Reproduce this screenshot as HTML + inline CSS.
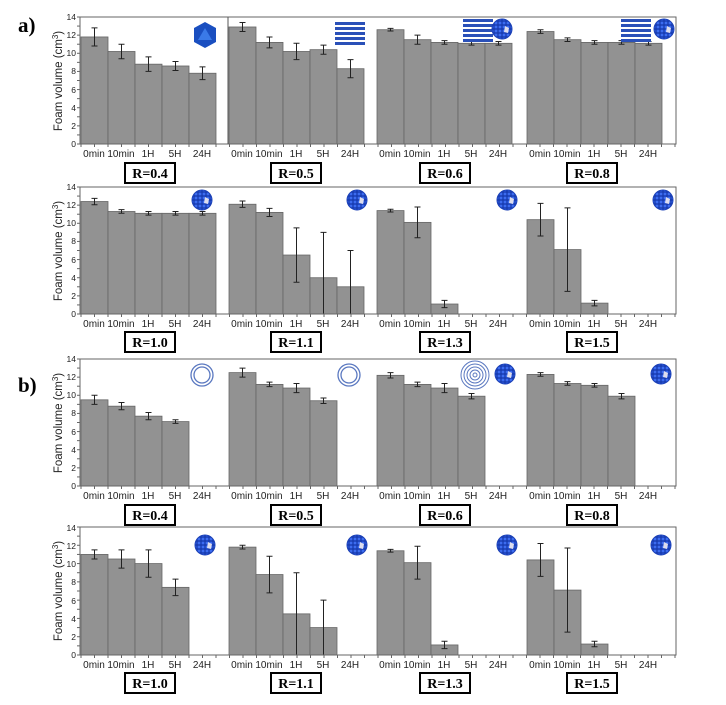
<!DOCTYPE html>
<html><head><meta charset="utf-8"><style>
html,body{margin:0;padding:0;background:#fff}
svg{display:block}
.t{font-family:"Liberation Sans",sans-serif;font-size:10px;fill:#222}
.y{font-family:"Liberation Sans",sans-serif;font-size:8.5px;fill:#222}
.r{font-family:"Liberation Serif",serif;font-size:14px;font-weight:bold;fill:#000}
.lab{font-family:"Liberation Serif",serif;font-size:21px;font-weight:bold;fill:#000}
.yl{font-family:"Liberation Sans",sans-serif;font-size:11.5px;fill:#222}
</style></head><body>
<svg id="s" width="726" height="705" viewBox="0 0 726 705" xmlns="http://www.w3.org/2000/svg">
<text class="lab" x="18" y="32">a)</text>
<text class="lab" x="18" y="392">b)</text>
<g id="bars"></g>
<text class="yl" transform="translate(62,81) rotate(-90)" text-anchor="middle">Foam volume (cm<tspan dy="-4" font-size="8">3</tspan><tspan dy="4">)</tspan></text>
<text class="yl" transform="translate(62,251) rotate(-90)" text-anchor="middle">Foam volume (cm<tspan dy="-4" font-size="8">3</tspan><tspan dy="4">)</tspan></text>
<text class="yl" transform="translate(62,423) rotate(-90)" text-anchor="middle">Foam volume (cm<tspan dy="-4" font-size="8">3</tspan><tspan dy="4">)</tspan></text>
<text class="yl" transform="translate(62,591) rotate(-90)" text-anchor="middle">Foam volume (cm<tspan dy="-4" font-size="8">3</tspan><tspan dy="4">)</tspan></text>
<g class="y" text-anchor="end">
<text x="76" y="147">0</text><text x="76" y="129">2</text><text x="76" y="111">4</text><text x="76" y="93">6</text><text x="76" y="74">8</text><text x="76" y="56">10</text><text x="76" y="38">12</text><text x="76" y="20">14</text>
<text x="76" y="317">0</text><text x="76" y="299">2</text><text x="76" y="281">4</text><text x="76" y="263">6</text><text x="76" y="244">8</text><text x="76" y="226">10</text><text x="76" y="208">12</text><text x="76" y="190">14</text>
<text x="76" y="489">0</text><text x="76" y="471">2</text><text x="76" y="453">4</text><text x="76" y="435">6</text><text x="76" y="416">8</text><text x="76" y="398">10</text><text x="76" y="380">12</text><text x="76" y="362">14</text>
<text x="76" y="658">0</text><text x="76" y="640">2</text><text x="76" y="622">4</text><text x="76" y="604">6</text><text x="76" y="585">8</text><text x="76" y="567">10</text><text x="76" y="549">12</text><text x="76" y="531">14</text>
</g>
<g class="t" text-anchor="middle">
<g transform="translate(0,157)">
<text x="94">0min</text><text x="121">10min</text><text x="148">1H</text><text x="175">5H</text><text x="202">24H</text>
<text x="242">0min</text><text x="269">10min</text><text x="296">1H</text><text x="323">5H</text><text x="350">24H</text>
<text x="390">0min</text><text x="417">10min</text><text x="444">1H</text><text x="471">5H</text><text x="498">24H</text>
<text x="540">0min</text><text x="567">10min</text><text x="594">1H</text><text x="621">5H</text><text x="648">24H</text>
</g>
<g transform="translate(0,327)">
<text x="94">0min</text><text x="121">10min</text><text x="148">1H</text><text x="175">5H</text><text x="202">24H</text>
<text x="242">0min</text><text x="269">10min</text><text x="296">1H</text><text x="323">5H</text><text x="350">24H</text>
<text x="390">0min</text><text x="417">10min</text><text x="444">1H</text><text x="471">5H</text><text x="498">24H</text>
<text x="540">0min</text><text x="567">10min</text><text x="594">1H</text><text x="621">5H</text><text x="648">24H</text>
</g>
<g transform="translate(0,499)">
<text x="94">0min</text><text x="121">10min</text><text x="148">1H</text><text x="175">5H</text><text x="202">24H</text>
<text x="242">0min</text><text x="269">10min</text><text x="296">1H</text><text x="323">5H</text><text x="350">24H</text>
<text x="390">0min</text><text x="417">10min</text><text x="444">1H</text><text x="471">5H</text><text x="498">24H</text>
<text x="540">0min</text><text x="567">10min</text><text x="594">1H</text><text x="621">5H</text><text x="648">24H</text>
</g>
<g transform="translate(0,668)">
<text x="94">0min</text><text x="121">10min</text><text x="148">1H</text><text x="175">5H</text><text x="202">24H</text>
<text x="242">0min</text><text x="269">10min</text><text x="296">1H</text><text x="323">5H</text><text x="350">24H</text>
<text x="390">0min</text><text x="417">10min</text><text x="444">1H</text><text x="471">5H</text><text x="498">24H</text>
<text x="540">0min</text><text x="567">10min</text><text x="594">1H</text><text x="621">5H</text><text x="648">24H</text>
</g>
</g>
<g fill="#fff" stroke="#000" stroke-width="2">
<rect x="125" y="163" width="50" height="20"/><rect x="271" y="163" width="50" height="20"/><rect x="420" y="163" width="50" height="20"/><rect x="567" y="163" width="50" height="20"/>
<rect x="125" y="332" width="50" height="20"/><rect x="271" y="332" width="50" height="20"/><rect x="420" y="332" width="50" height="20"/><rect x="567" y="332" width="50" height="20"/>
<rect x="125" y="505" width="50" height="20"/><rect x="271" y="505" width="50" height="20"/><rect x="420" y="505" width="50" height="20"/><rect x="567" y="505" width="50" height="20"/>
<rect x="125" y="673" width="50" height="20"/><rect x="271" y="673" width="50" height="20"/><rect x="420" y="673" width="50" height="20"/><rect x="567" y="673" width="50" height="20"/>
</g>
<g class="r" text-anchor="middle">
<text x="150" y="178">R=0.4</text><text x="296" y="178">R=0.5</text><text x="445" y="178">R=0.6</text><text x="592" y="178">R=0.8</text>
<text x="150" y="347">R=1.0</text><text x="296" y="347">R=1.1</text><text x="445" y="347">R=1.3</text><text x="592" y="347">R=1.5</text>
<text x="150" y="520">R=0.4</text><text x="296" y="520">R=0.5</text><text x="445" y="520">R=0.6</text><text x="592" y="520">R=0.8</text>
<text x="150" y="688">R=1.0</text><text x="296" y="688">R=1.1</text><text x="445" y="688">R=1.3</text><text x="592" y="688">R=1.5</text>
</g>
<defs>
<pattern id="dots" width="4" height="4" patternUnits="userSpaceOnUse"><rect width="4" height="4" fill="#1a3fb5"/><circle cx="2" cy="2" r="1.4" fill="#3c6cf0"/></pattern>
<g id="sph"><circle r="10" fill="url(#dots)" stroke="#1a3fb5"/><path d="M3,-3 l4,2 l-1,5 l-4,-1z" fill="#dde"/></g>
<g id="str"><rect x="0" y="0" width="30" height="3" fill="#2a50b8"/><rect x="0" y="5" width="30" height="3" fill="#2a50b8"/><rect x="0" y="10" width="30" height="3" fill="#2a50b8"/><rect x="0" y="15" width="30" height="3" fill="#2a50b8"/><rect x="0" y="20" width="30" height="3" fill="#2a50b8"/></g>
<g id="ring"><circle r="11" fill="none" stroke="#5a78c0" stroke-width="1.3"/><circle r="8" fill="none" stroke="#5a78c0" stroke-width="1.3"/></g>
</defs>
<polygon points="205,22 216,28 216,42 205,48 194,42 194,28" fill="#1a4fc0"/><polygon points="205,28 212,40 198,40" fill="#3a7ae8"/>
<use href="#str" x="335" y="22"/>
<use href="#str" x="463" y="19"/><use href="#sph" x="502" y="29"/>
<use href="#str" x="621" y="19"/><use href="#sph" x="664" y="29"/>
<use href="#sph" x="202" y="200"/><use href="#sph" x="357" y="200"/><use href="#sph" x="507" y="200"/><use href="#sph" x="663" y="200"/>
<use href="#ring" x="202" y="375"/><use href="#ring" x="349" y="375"/>
<g transform="translate(475,375)" fill="none" stroke="#5a78c0" stroke-width="1"><circle r="14"/><circle r="11"/><circle r="8"/><circle r="5"/><circle r="2"/></g>
<use href="#sph" x="505" y="374"/><use href="#sph" x="661" y="374"/>
<use href="#sph" x="205" y="545"/><use href="#sph" x="357" y="545"/><use href="#sph" x="507" y="545"/><use href="#sph" x="661" y="545"/>
</svg>
<script>
var rows=[
 {top:17,bot:144,d:[[[11.8,1],[10.2,.8],[8.8,.8],[8.6,.5],[7.8,.7]],[[12.9,.5],[11.2,.6],[10.2,.9],[10.4,.5],[8.3,1]],[[12.6,.15],[11.5,.5],[11.2,.2],[11.1,.2],[11.1,.2]],[[12.4,.2],[11.5,.2],[11.2,.2],[11.2,.2],[11.1,.2]]],div:true},
 {top:187,bot:314,d:[[[12.4,.35],[11.3,.2],[11.1,.2],[11.1,.2],[11.1,.2]],[[12.1,.35],[11.2,.45],[6.5,3],[4,5],[3,4]],[[11.4,.15],[10.1,1.7],[1.1,.4],[0,0],[0,0]],[[10.4,1.8],[7.1,4.6],[1.2,.3],[0,0],[0,0]]]},
 {top:359,bot:486,d:[[[9.5,.5],[8.8,.4],[7.7,.4],[7.1,.2],[0,0]],[[12.5,.5],[11.2,.25],[10.8,.5],[9.4,.3],[0,0]],[[12.2,.3],[11.2,.25],[10.8,.5],[9.9,.3],[0,0]],[[12.3,.2],[11.3,.2],[11.1,.2],[9.9,.3],[0,0]]]},
 {top:527,bot:655,d:[[[11,.5],[10.5,1],[10,1.5],[7.4,.9],[0,0]],[[11.8,.2],[8.8,2],[4.5,4.5],[3,3],[0,0]],[[11.4,.15],[10.1,1.8],[1.1,.4],[0,0],[0,0]],[[10.4,1.8],[7.1,4.6],[1.2,.3],[0,0],[0,0]]]}
];
var off=[81,229,377,527],h='';
rows.forEach(function(r){
 var k=(r.bot-r.top)/14;
 r.d.forEach(function(p,pi){p.forEach(function(v,i){
  if(v[0]<=0)return;
  var x=off[pi]+27*i,y=r.bot-v[0]*k;
  h+='<rect x="'+x+'" y="'+y+'" width="27" height="'+(v[0]*k)+'" fill="#929292" stroke="#666" stroke-width="0.8"/>';
  var cx=x+13.5,y1=r.bot-Math.min(14,v[0]+v[1])*k,y2=r.bot-Math.max(0,v[0]-v[1])*k;
  h+='<path d="M'+cx+','+y1+'V'+y2+'M'+(cx-3)+','+y1+'h6M'+(cx-3)+','+y2+'h6" stroke="#222" stroke-width="1" fill="none"/>';
 });});
 h+='<path d="M80,'+r.bot+'V'+r.top+'H676V'+r.bot+'H80" fill="none" stroke="#666" stroke-width="1"/>';
 if(r.div)h+='<path d="M228,'+r.top+'V'+r.bot+'" stroke="#555"/>';
 for(var t=0;t<=14;t++){var ty=r.bot-t*k;h+='<path d="M77,'+ty+'H80" stroke="#666"/>';}
 for(var x=81;x<=676;x+=13.5){h+='<path d="M'+x+','+r.bot+'v3" stroke="#666"/>';}
});
document.getElementById('bars').innerHTML=h;
</script>
</body></html>
